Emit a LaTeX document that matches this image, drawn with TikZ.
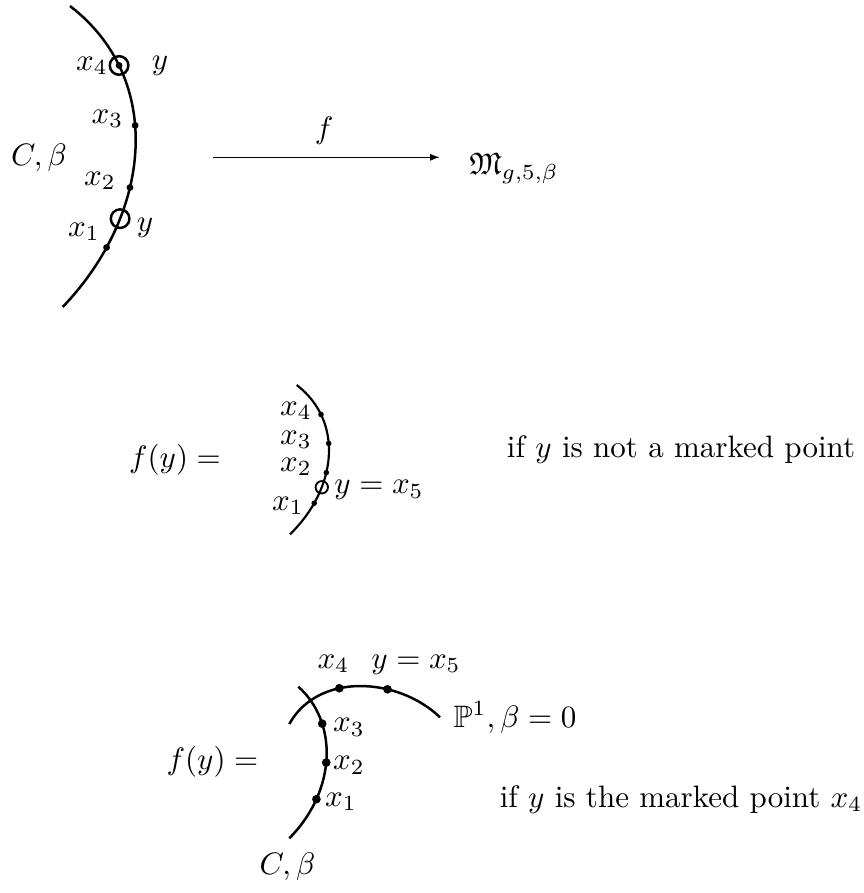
\documentclass[tikz,border=0pt]{standalone}
\usepackage{amsmath,amssymb}
\usetikzlibrary{arrows.meta}
\begin{document}
\begin{tikzpicture}[x=0.32258pt,y=-0.32258pt,
  curveA/.style={line width=0.8pt},
  curveB/.style={line width=0.7pt},
  lbl/.style={inner sep=0pt}]
\path[use as bounding box] (0,0) rectangle (864,893);

% ---------- top picture ----------
\draw[curveA] (70,6) .. controls (166,80) and (151,215) .. (62.7,307)
  coordinate[pos=0.23] (t4)
  coordinate[pos=0.425] (t3)
  coordinate[pos=0.615] (t2)
  coordinate[pos=0.71] (ty)
  coordinate[pos=0.80] (t1);
\fill (t4) circle (1.1pt);
\fill (t3) circle (1.1pt);
\fill (t2) circle (1.1pt);
\fill (t1) circle (1.1pt);
\draw[line width=0.8pt] (t4) circle (3pt);
\draw[line width=0.8pt] (ty) circle (3pt);
\node[lbl] (lt4) at (92,66) {$x_4$};
\node[lbl] (lty4) at (160,66) {$y$};
\node[lbl] (lt3) at (107.5,119) {$x_3$};
\node[lbl] (lC) at (39,158) {$C,\beta$};
\node[lbl] (lt2) at (100,181) {$x_2$};
\node[lbl] (lt1) at (84,232) {$x_1$};
\node[lbl] (lty1) at (145,228) {$y$};

\coordinate (a0) at (213.3,157.3);
\coordinate (a1) at (440,157.3);
\draw[line width=0.5pt,-{Latex[length=3.2pt,width=2.3pt]}] (a0) -- (a1);
\node[lbl] (lf) at (324,131) {$f$};
\node[lbl,anchor=base] (M) at (514,175) {$\mathfrak{M}_{g,5,\beta}$};

% ---------- middle picture ----------
\node[lbl] (fy1) at (175,460) {$f(y) =$};
\draw[curveB] (296.7,385) .. controls (344.3,421.7) and (336.9,488.7) .. (290,534.3)
  coordinate[pos=0.23] (m4)
  coordinate[pos=0.42] (m3)
  coordinate[pos=0.60] (m2)
  coordinate[pos=0.69] (my)
  coordinate[pos=0.79] (m1);
\fill (m4) circle (0.9pt);
\fill (m3) circle (0.9pt);
\fill (m2) circle (0.9pt);
\fill (m1) circle (0.9pt);
\draw[line width=0.6pt] (my) circle (2pt);
\node[lbl] (lm4) at (296,411) {$x_4$};
\node[lbl] (lm3) at (296,440) {$x_3$};
\node[lbl] (lm2) at (296,467) {$x_2$};
\node[lbl] (lm1) at (288,506) {$x_1$};
\node[lbl] (lmy) at (379,490) {$y = x_5$};
\node[lbl,anchor=base] (if1) at (681,457) {if $y$ is not a marked point};

% ---------- bottom picture ----------
\node[lbl] (fy2) at (212.5,761.7) {$f(y) =$};
\draw[curveA] (298.3,686.7) .. controls (338,722) and (337,790) .. (289.3,838.3)
  coordinate[pos=0.285] (b3)
  coordinate[pos=0.53] (b2)
  coordinate[pos=0.75] (b1);
\draw[curveA] (289.3,724) .. controls (318,672) and (398,677) .. (440,717.3)
  coordinate[pos=0.38] (b4)
  coordinate[pos=0.66] (by);
\fill (b4) circle (1.4pt);
\fill (by) circle (1.4pt);
\fill (b3) circle (1.4pt);
\fill (b2) circle (1.4pt);
\fill (b1) circle (1.4pt);
\node[lbl,anchor=base] (lb4) at (333.5,668) {$x_4$};
\node[lbl,anchor=base] (lby) at (416,668) {$y = x_5$};
\node[lbl] (lb3) at (349,727) {$x_3$};
\node[lbl] (lb2) at (349,765) {$x_2$};
\node[lbl] (lb1) at (341,801.7) {$x_1$};
\node[lbl,anchor=base] (lP) at (515,727) {$\mathbb{P}^1, \beta = 0$};
\node[lbl] (lC2) at (287.5,866.7) {$C,\beta$};
\node[lbl,anchor=base] (if2) at (681,807) {if $y$ is the marked point $x_4$};
\end{tikzpicture}
\end{document}
